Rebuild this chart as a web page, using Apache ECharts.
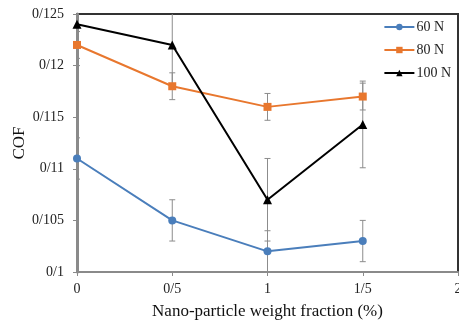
<!DOCTYPE html>
<html><head><meta charset="utf-8">
<script src="https://cdn.jsdelivr.net/npm/echarts@6/dist/echarts.min.js"></script>
<style>html,body{margin:0;padding:0;background:#fff}#c{width:459px;height:322px}</style>
</head><body><div id="c"></div>
<script>
const xValues = [0, 0.5, 1, 1.5];
const xTickLabels = ['0', '0/5', '1', '1/5', '2'];
const yTickLabels = ['0/1', '0/105', '0/11', '0/115', '0/12', '0/125'];
const seriesNames = ['60 N', '80 N', '100 N'];
const cof60 = [0.111, 0.105, 0.102, 0.103];
const err60 = [0.002, 0.002, 0.002, 0.002];
const cof80 = [0.122, 0.118, 0.116, 0.117];
const err80 = [0.0013, 0.0013, 0.0013, 0.0013];
const cof100 = [0.124, 0.122, 0.107, 0.1143];
const err100 = [0.004, 0.004, 0.004, 0.0042];

const colors = ['#4a7ebb', '#e8772e', '#000000'];
const symbols = ['circle', 'rect', 'triangle'];
const allVals = [cof60, cof80, cof100];
const allErr = [err60, err80, err100];
const font = 'Liberation Serif';

const chart = echarts.init(document.getElementById('c'));
const series = [];
allVals.forEach((vals, i) => {
  series.push({
    type: 'custom',
    silent: true,
    clip: true,
    z: 1,
    data: xValues.map((x, j) => [x, vals[j] - allErr[i][j], vals[j] + allErr[i][j]]),
    renderItem: function (params, api) {
      const lo = api.coord([api.value(0), api.value(1)]);
      const hi = api.coord([api.value(0), api.value(2)]);
      const top = Math.max(hi[1], params.coordSys.y);
      const hw = 3;
      const st = { stroke: '#8c8c8c', lineWidth: 1 };
      const ch = [{ type: 'line', shape: { x1: lo[0], y1: lo[1], x2: lo[0], y2: top }, style: st },
                  { type: 'line', shape: { x1: lo[0] - hw, y1: lo[1], x2: lo[0] + hw, y2: lo[1] }, style: st }];
      if (hi[1] >= params.coordSys.y) ch.push({ type: 'line', shape: { x1: hi[0] - hw, y1: hi[1], x2: hi[0] + hw, y2: hi[1] }, style: st });
      return { type: 'group', children: ch };
    }
  });
});
allVals.forEach((vals, i) => {
  series.push({
    name: seriesNames[i],
    type: 'line',
    z: 3,
    data: xValues.map((x, j) => [x, vals[j]]),
    symbol: symbols[i],
    symbolSize: i === 2 ? 9 : 8,
    showSymbol: true,
    lineStyle: { color: colors[i], width: 2 },
    itemStyle: { color: colors[i] },
    animation: false
  });
});

chart.setOption({
  animation: false,
  grid: { left: 77, right: 1, top: 14, bottom: 50, show: true, borderColor: '#333', borderWidth: 2,
          containLabel: false, outerBoundsMode: 'none' },
  legend: {
    orient: 'vertical', right: 3, top: 15, itemGap: 9, itemWidth: 30, itemHeight: 8,
    data: seriesNames,
    textStyle: { fontFamily: font, fontSize: 14, color: '#222', padding: [0, 0, 0, -3] }
  },
  xAxis: {
    type: 'value', min: 0, max: 2, interval: 0.5,
    name: 'Nano-particle weight fraction (%)', nameLocation: 'middle', nameGap: 31,
    nameMoveOverlap: false,
    nameTextStyle: { fontFamily: font, fontSize: 17, color: '#111' },
    axisLine: { lineStyle: { color: '#8a8a8a', width: 2 } },
    axisTick: { show: true, length: 4, lineStyle: { color: '#8a8a8a' } },
    splitLine: { show: false },
    axisLabel: { fontFamily: font, fontSize: 14, color: '#222', margin: 10,
      formatter: v => xTickLabels[Math.round(v / 0.5)] }
  },
  yAxis: {
    type: 'value', min: 0.1, max: 0.125, interval: 0.005,
    name: 'COF', nameLocation: 'middle', nameGap: 49, nameRotate: 90,
    nameMoveOverlap: false,
    nameTextStyle: { fontFamily: font, fontSize: 17, color: '#111' },
    axisLine: { show: true, lineStyle: { color: '#8a8a8a', width: 3 } },
    axisTick: { show: true, length: 4, lineStyle: { color: '#8a8a8a' } },
    splitLine: { show: false },
    axisLabel: { fontFamily: font, fontSize: 14, color: '#222', margin: 13,
      formatter: v => yTickLabels[Math.round((v - 0.1) / 0.005)] }
  },
  series: series
});
</script></body></html>
